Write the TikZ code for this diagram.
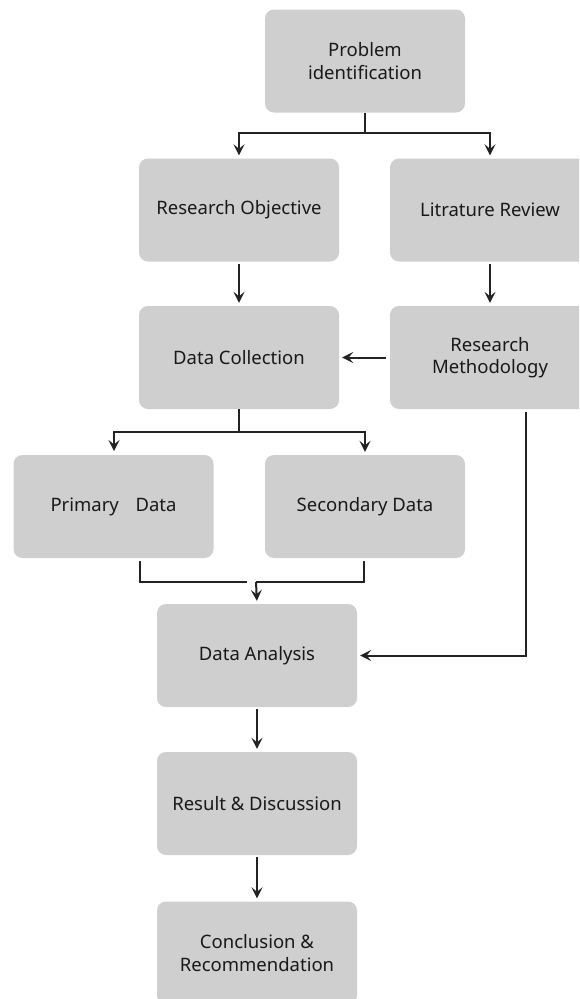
\documentclass[tikz,border=0pt]{standalone}
\usepackage{fontspec}
\setmainfont{Noto Sans}
\usetikzlibrary{arrows.meta}
\definecolor{boxgray}{RGB}{208,207,208}
\definecolor{linegray}{RGB}{35,35,35}
\definecolor{txtgray}{RGB}{25,25,25}
\begin{document}
\begin{tikzpicture}[x=1pt,y=-1pt,
  stepbox/.style={rectangle, rounded corners=9pt, fill=boxgray, draw=none,
    minimum width=200pt, minimum height=103pt, align=center, text=txtgray,
    font=\fontsize{18.5}{22.5}\selectfont, inner sep=0pt},
  conn/.style={draw=linegray, line width=2pt},
  arr/.style={conn, -{Stealth[length=11pt,width=11pt,inset=4.5pt]}, shorten >=3pt}
]
\useasboundingbox (0,0) rectangle (579,999);
\begin{scope}
\clip (0,0) rectangle (579,999);
\node[stepbox] (prob) at (365,61) {Problem\\identification};
\node[stepbox] (obj) at (239,210) {Research Objective};
\node[stepbox] (lit) at (490,210) {Litrature Review};
\node[stepbox] (dc) at (239,357.5) {Data Collection};
\node[stepbox] (rm) at (490,357.5) {Research\\Methodology};
\node[stepbox] (prim) at (113.5,506.5) {Primary\hspace{0.9em}Data};
\node[stepbox] (sec) at (365,506.5) {Secondary Data};
\node[stepbox] (da) at (257,655.5) {Data Analysis};
\node[stepbox] (rd) at (257,803.5) {Result \& Discussion};
\node[stepbox] (cr) at (257,953) {Conclusion \&\\Recommendation};
\end{scope}
% junction coordinates
\coordinate (j1) at (365,133);
\coordinate (j2) at (239,432);
\coordinate (j3) at (256,582);
% problem -> objective / literature
\draw[conn] (prob.south) -- (j1);
\draw[arr] (j1) -| (obj.north);
\draw[arr] (j1) -| (lit.north);
% vertical arrows
\draw[arr, shorten <=2pt] (obj.south) -- (dc.north);
\draw[arr, shorten <=2pt] (lit.south) -- (rm.north);
\draw[arr, shorten <=4pt] (rm.west) -- (dc.east);
% data collection split
\draw[conn] (dc.south) -- (j2);
\draw[arr] (j2) -| (114,454);
\draw[arr] (j2) -| (sec.north);
% merge into data analysis
\coordinate (p1) at (140,561);
\coordinate (s1) at (364,561);
\draw[conn] (p1) |- (247,582);
\draw[conn] (s1) |- (j3);
\draw[arr] (j3) -- (da.north);
% methodology to analysis
\coordinate (m1) at (526,412);
\draw[arr] (m1) |- (da.east);
% lower chain
\draw[arr, shorten <=2pt] (da.south) -- (rd.north);
\draw[arr, shorten <=2pt] (rd.south) -- (cr.north);
\end{tikzpicture}
\end{document}
